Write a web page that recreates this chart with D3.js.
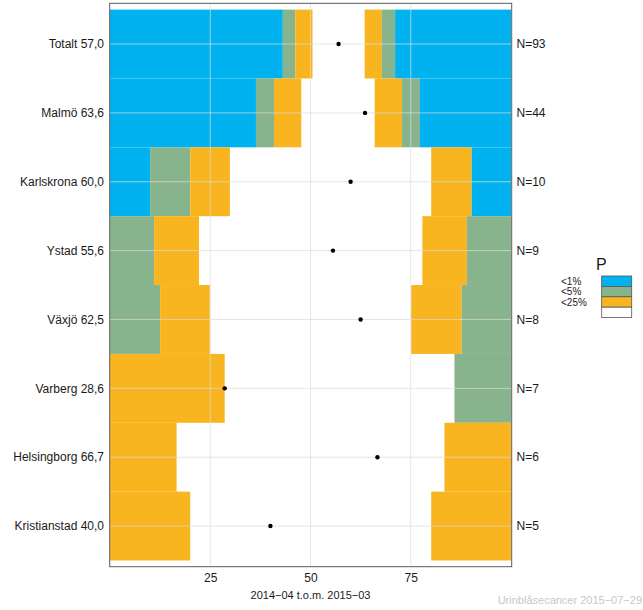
<!DOCTYPE html>
<html><head><meta charset="utf-8">
<script src="https://cdn.jsdelivr.net/npm/d3@7"></script>
<style>body{margin:0;background:#fff}svg{display:block;font-family:"Liberation Sans",Arial,sans-serif}</style>
</head><body><svg id="c" width="643" height="610"></svg>
<script>
const names = ["Totalt","Malmö","Karlskrona","Ystad","Växjö","Varberg","Helsingborg","Kristianstad"];
const pct = [57.0,63.6,60.0,55.6,62.5,28.6,66.7,40.0];
const nObs = [93,44,10,9,8,7,6,5];
// band limits (percent): left ends and right starts
const leftBlue   = [43.1,36.4,10.0,0,0,0,0,0];
const leftGreen  = [46.2,40.9,20.0,11.0,12.5,0,0,0];
const leftOrange = [50.5,47.7,29.9,22.2,24.9,28.6,16.6,20.0];
const rightOrange= [63.5,66.0,80.1,77.9,75.1,85.9,83.4,80.1];
const rightGreen = [67.8,72.8,90.2,89.0,87.7,85.9,100,100];
const rightBlue  = [71.1,77.3,90.2,100,100,100,100,100];
const xTicks = [25,50,75];
const legendLabels = ["<1%","<5%","<25%",""];
const colors = {blue:"#00B3F0",green:"#87B48D",orange:"#F9B51F",white:"#FFFFFF"};

const svg = d3.select("#c");
const x = d3.scaleLinear().domain([0,100]).range([110,511]);
const y = d3.scaleBand().domain(names).range([9.6,560.5]).padding(0);
const panel = {x0:109.7,x1:511.7,y0:3.3,y1:566.7};

const g = svg.append("g");
names.forEach((nm,i)=>{
  const segs = [
    [0,leftBlue[i],colors.blue],[leftBlue[i],leftGreen[i],colors.green],[leftGreen[i],leftOrange[i],colors.orange],
    [rightOrange[i],rightGreen[i],colors.orange],[rightGreen[i],rightBlue[i],colors.green],[rightBlue[i],100,colors.blue]
  ];
  segs.forEach(s=>{
    if(s[1]-s[0]<=0) return;
    g.append("rect").attr("x",x(s[0])).attr("width",x(s[1])-x(s[0]))
     .attr("y",y(nm)).attr("height",y.bandwidth()).attr("fill",s[2]);
  });
});
// gridlines on top
const grid = svg.append("g").attr("stroke","#dcdcdc").attr("stroke-opacity",0.7).attr("stroke-width",1);
xTicks.forEach(t=>grid.append("line").attr("x1",x(t)).attr("x2",x(t)).attr("y1",panel.y0).attr("y2",panel.y1));
names.forEach(nm=>{const yc=y(nm)+y.bandwidth()/2;grid.append("line").attr("x1",panel.x0).attr("x2",panel.x1).attr("y1",yc).attr("y2",yc);});
// points
names.forEach((nm,i)=>svg.append("circle").attr("cx",x(pct[i])).attr("cy",y(nm)+y.bandwidth()/2).attr("r",2.2).attr("fill","#000"));
// panel border
svg.append("rect").attr("x",panel.x0).attr("y",panel.y0).attr("width",panel.x1-panel.x0).attr("height",panel.y1-panel.y0)
  .attr("fill","none").attr("stroke","#5a5a5a").attr("stroke-width",1);
// left labels
names.forEach((nm,i)=>svg.append("text").attr("x",104).attr("y",y(nm)+y.bandwidth()/2).attr("dy","0.35em")
  .attr("text-anchor","end").attr("font-size",12).attr("fill","#1a1a1a").text(nm+" "+pct[i].toFixed(1).replace(".",",")));
// right labels
names.forEach((nm,i)=>svg.append("text").attr("x",516.5).attr("y",y(nm)+y.bandwidth()/2).attr("dy","0.35em")
  .attr("font-size",12).attr("fill","#1a1a1a").text("N="+nObs[i]));
// x axis
const xa = svg.append("g").attr("transform",`translate(0,${panel.y1})`)
  .call(d3.axisBottom(x).tickValues(xTicks).tickSize(0).tickPadding(6.5));
xa.select(".domain").remove();
xa.selectAll("line").remove();
xa.selectAll("text").attr("font-size",12).attr("fill","#1a1a1a").attr("font-family","Liberation Sans,Arial,sans-serif");
svg.append("text").attr("x",310.5).attr("y",599).attr("text-anchor","middle").attr("font-size",11).attr("fill","#1a1a1a")
  .text("2014−04 t.o.m. 2015−03");
svg.append("text").attr("x",642).attr("y",604).attr("text-anchor","end").attr("font-size",11).attr("fill","#c8c8c8")
  .text("Urinblåsecancer 2015−07−29");
// legend
svg.append("text").attr("x",596).attr("y",270).attr("font-size",16).attr("fill","#1a1a1a").text("P");
const lc=[colors.blue,colors.green,colors.orange,colors.white];
lc.forEach((c,i)=>{
  svg.append("rect").attr("x",601.7).attr("y",276+i*10.4).attr("width",30).attr("height",10.4)
   .attr("fill",c).attr("stroke","#555").attr("stroke-width",0.8);
  if(legendLabels[i]) svg.append("text").attr("x",561).attr("y",276+i*10.4+5.2).attr("dy","0.35em")
   .attr("font-size",10).attr("fill","#1a1a1a").text(legendLabels[i]);
});
</script></body></html>
